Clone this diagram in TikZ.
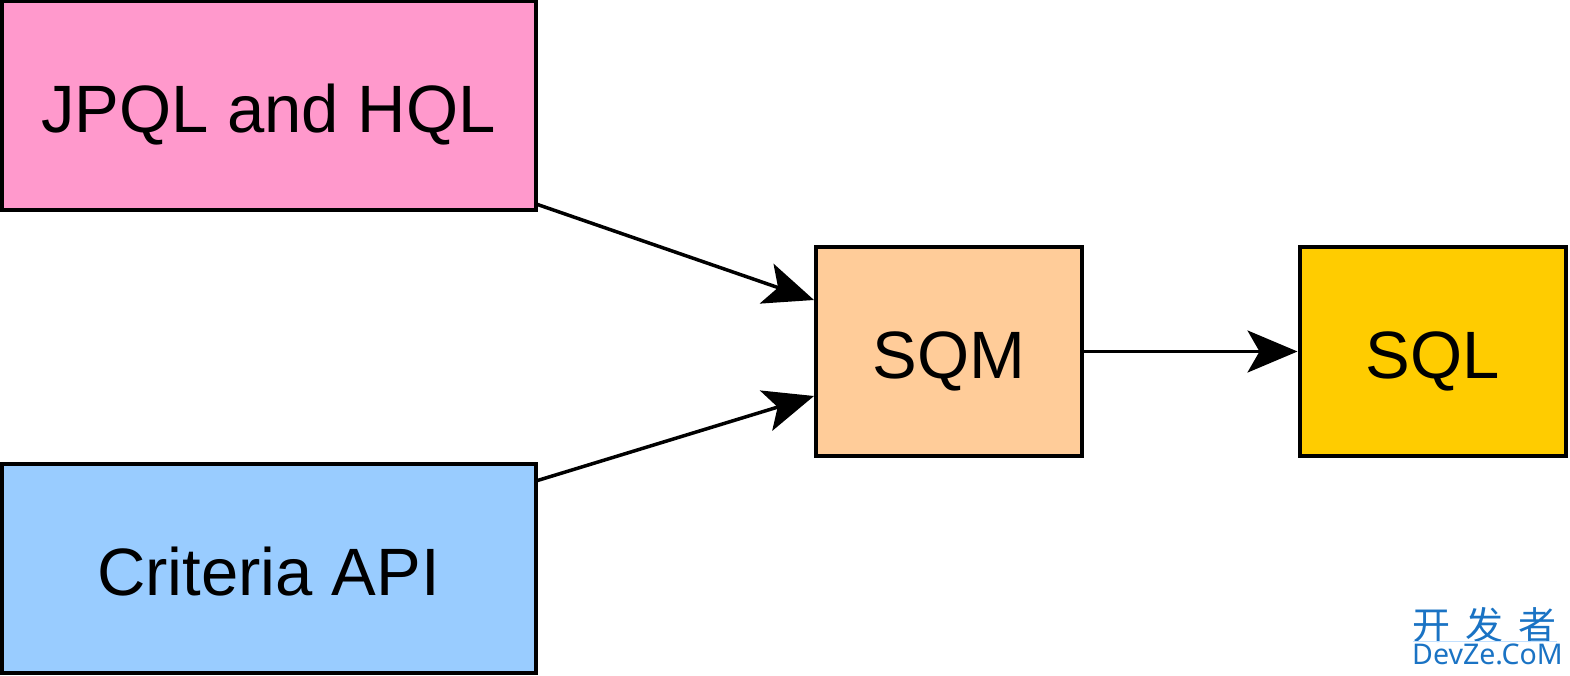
\documentclass[tikz,border=0pt]{standalone}
\usepackage{fontspec}
\setmainfont{Liberation Sans}
\newfontfamily\cjk{Noto Sans CJK SC}
\newfontfamily\wmfont{Noto Sans}
\usetikzlibrary{arrows.meta,calc}
\definecolor{cpink}{HTML}{FF99CC}
\definecolor{cblue}{HTML}{99CCFF}
\definecolor{corange}{HTML}{FFCC99}
\definecolor{cgold}{HTML}{FFCC00}
\definecolor{wmblue}{HTML}{1A73C4}
\tikzset{
  box/.style={draw=black, line width=4pt, inner sep=0pt, text height=57pt, text depth=3pt, font=\fontsize{67}{80}\selectfont},
  bigbox/.style={box, minimum width=534pt, minimum height=209pt},
  smallbox/.style={box, minimum width=266pt, minimum height=209pt},
  conn/.style={line width=3.5pt, -{Stealth[length=50pt, width=42pt, inset=12pt]}}
}
\begin{document}
\begin{tikzpicture}[x=1pt, y=-1pt]
\useasboundingbox (0,0) rectangle (1570,676);
\node[bigbox, fill=cpink] (jpql) at (268.5,106) {JPQL and HQL};
\node[bigbox, fill=cblue] (crit) at (268.5,568) {Criteria API};
\node[smallbox, fill=corange] (sqm) at (949,351.5) {SQM};
\node[smallbox, fill=cgold] (sql) at (1432.5,351.5) {SQL};
\draw[conn] ($(jpql.south east)+(0,-8)$) -- ($(sqm.north west)+(0,55)$);
\draw[conn] ($(crit.north east)+(0,19)$) -- ($(sqm.south west)+(0,-62)$);
\draw[conn] (sqm.east) -- (sql.west);
\node[text=wmblue, inner sep=0pt, anchor=west, font=\cjk\fontsize{38}{40}\selectfont] (wm1) at (1412,625) {开\hspace{15pt}发\hspace{15pt}者};
\node[text=wmblue, inner sep=0pt, anchor=west, font=\wmfont\fontsize{28.5}{32}\selectfont] (wm2) at (1412,654) {DevZe.CoM};
\draw[cblue!60, line width=1pt] (1413,641) -- (1557,641);
\end{tikzpicture}
\end{document}
